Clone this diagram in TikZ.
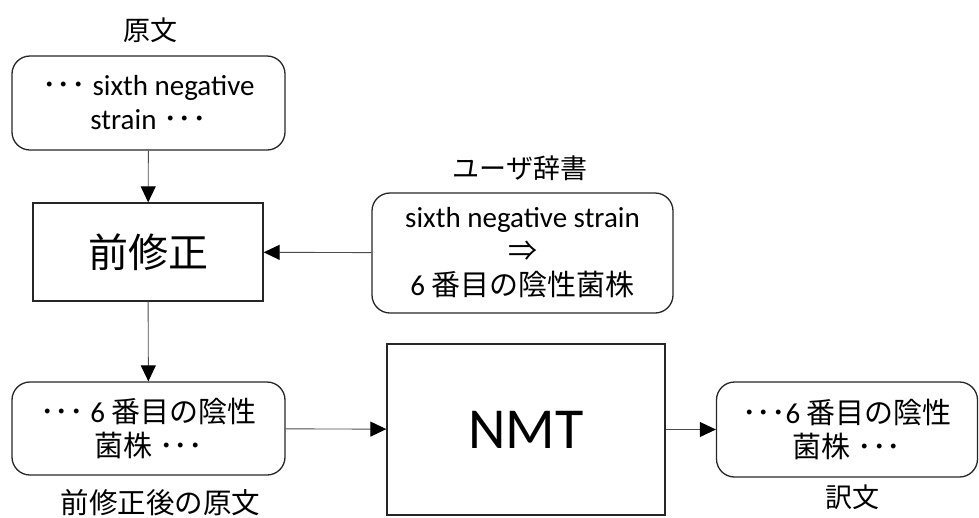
\documentclass[tikz,border=0pt]{standalone}
\usepackage{fontspec}
\setmainfont{Carlito}
\newfontfamily\jp{Noto Sans CJK JP}
\usetikzlibrary{arrows.meta}

\newcommand{\tecky}{{\jp ･･･}}

\begin{document}
\begin{tikzpicture}[x=100pt,y=-100pt,
    >={Triangle[length=16pt,width=15pt,color=black]},
    box/.style={draw=black!85,line width=1.3pt,align=center,inner sep=0pt,
                font=\fontsize{29}{34}\selectfont},
    rbox/.style={box,rounded corners=18pt},
    spoj/.style={draw=black!70,line width=0.9pt,->},
    popis/.style={font=\jp\fontsize{27}{32}\selectfont}]

  \useasboundingbox (0,0) rectangle (9.79,5.17);

  \begin{scope}   % horni rada: original a predupravy

    \def\Ox{1.485};
    \def\Oy{1.030};
    \coordinate (O) at (\Ox,\Oy);
    \def\Px{1.480};
    \def\Py{2.520};
    \coordinate (P) at (\Px,\Py);
    \def\Dx{5.225};
    \def\Dy{2.530};
    \coordinate (D) at (\Dx,\Dy);

    \node[rbox,minimum width=273pt,minimum height=94pt] (orig) at (O)
         {\tecky{} sixth negative\\strain \tecky};
    \node[popis] (origlab) at (\Ox+0.015,0.300) {原文};

    \node[box,minimum width=230pt,minimum height=98pt,
          font=\jp\fontsize{40}{48}\selectfont] (pre) at (P) {前修正};

    \node[rbox,minimum width=301pt,minimum height=120pt] (dict) at (D)
         {sixth negative strain\\{\jp ⇒}\\6 {\jp 番目の陰性菌株}};
    \node[popis] (dictlab) at (\Dx-0.025,1.680) {ユーザ辞書};

  \end{scope}

  \begin{scope}   % dolni rada: NMT

    \def\Sx{1.485};
    \def\Sy{4.285};
    \coordinate (S) at (\Sx,\Sy);
    \def\Nx{5.260};
    \def\Ny{4.295};
    \coordinate (N) at (\Nx,\Ny);
    \def\Tx{8.470};
    \def\Ty{4.295};
    \coordinate (T) at (\Tx,\Ty);

    \node[rbox,minimum width=273pt,minimum height=93pt] (src) at (S)
         {\tecky{} 6 {\jp 番目の陰性}\\{\jp 菌株} \tecky};
    \node[popis,font=\jp\fontsize{28.5}{32}\selectfont]
         (srclab) at (\Sx+0.120,5.025) {前修正後の原文};

    \node[box,minimum width=278pt,minimum height=171pt,
          font=\fontsize{58}{60}\selectfont] (nmt) at (N) {NMT};

    \node[rbox,minimum width=261pt,minimum height=95pt] (out) at (T)
         {\tecky{}6 {\jp 番目の陰性}\\{\jp 菌株} \tecky};
    \node[popis] (outlab) at (\Tx+0.050,4.975) {訳文};

  \end{scope}

  \draw[spoj] (orig) -- (pre);
  \draw[spoj] (dict) -- (pre);
  \draw[spoj] (pre) -- (src);
  \draw[spoj] (src) -- (nmt);
  \draw[spoj] (nmt) -- (out);

\end{tikzpicture}
\end{document}
